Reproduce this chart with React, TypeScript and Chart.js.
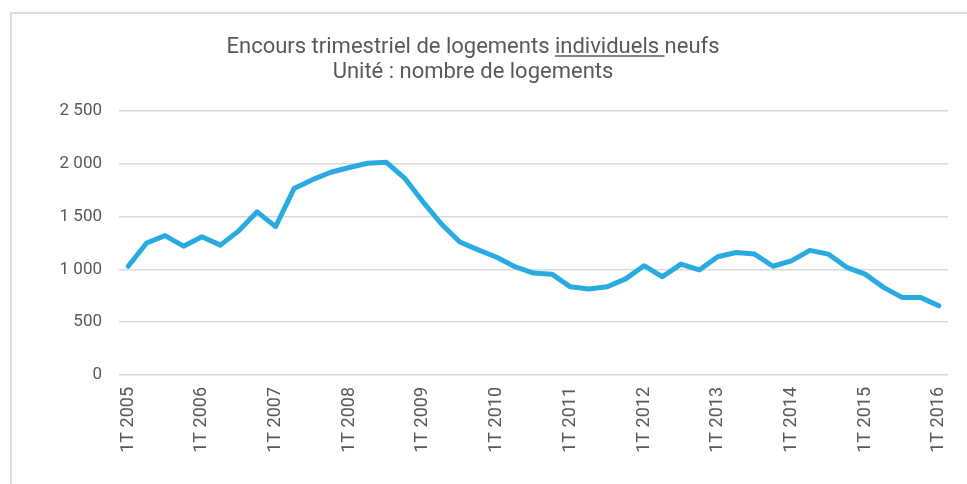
import React, { useEffect, useRef } from "react";
import { Chart, registerables } from "chart.js";

Chart.register(...registerables);

const years = [2005, 2006, 2007, 2008, 2009, 2010, 2011, 2012, 2013, 2014, 2015, 2016];
const quarters = ["1T", "2T", "3T", "4T"];
const categories: string[] = years
  .flatMap((y) => quarters.map((q) => `${q} ${y}`))
  .slice(0, 45);

const encours = [
  1030, 1250, 1320, 1220, 1310, 1230, 1365, 1545, 1405, 1765, 1850, 1920, 1965, 2005, 2015,
  1865, 1640, 1430, 1260, 1185, 1115, 1025, 965, 955, 835, 815, 835, 910, 1035, 930, 1050,
  995, 1120, 1160, 1145, 1030, 1080, 1180, 1145, 1020, 955, 830, 735, 735, 655,
];

const titleBefore = "Encours trimestriel de logements ";
const titleUnderlined = "individuels ";
const titleAfter = "neufs";
const subtitle = "Unité : nombre de logements";

const TEXT = "#595959";
const FONT = "Roboto, 'Noto Sans', sans-serif";

const titlePlugin = {
  id: "customTitle",
  afterDraw(chart: any) {
    const ctx = chart.ctx;
    ctx.save();
    ctx.fillStyle = TEXT;
    ctx.strokeStyle = TEXT;
    ctx.font = `22px ${FONT}`;
    ctx.textBaseline = "alphabetic";
    ctx.textAlign = "left";
    const cx = 473;
    const w1 = ctx.measureText(titleBefore).width;
    const w2 = ctx.measureText(titleUnderlined).width;
    const w3 = ctx.measureText(titleAfter).width;
    const total = w1 + w2 + w3;
    const x = cx - total / 2;
    const y1 = 53;
    ctx.fillText(titleBefore, x, y1);
    ctx.fillText(titleUnderlined, x + w1, y1);
    ctx.fillText(titleAfter, x + w1 + w2, y1);
    ctx.lineWidth = 1.3;
    ctx.beginPath();
    ctx.moveTo(x + w1, y1 + 3);
    ctx.lineTo(x + w1 + w2, y1 + 3);
    ctx.stroke();
    ctx.textAlign = "center";
    ctx.fillText(subtitle, cx, 78);
    ctx.restore();
  },
};

function formatThousands(v: number): string {
  if (v >= 1000) {
    const th = Math.floor(v / 1000);
    const rest = String(v % 1000).padStart(3, "0");
    return `${th} ${rest}`;
  }
  return String(v);
}

export default function App() {
  const ref = useRef<HTMLCanvasElement | null>(null);

  useEffect(() => {
    if (!ref.current) return;
    const chart = new Chart(ref.current, {
      type: "line",
      data: {
        labels: categories,
        datasets: [
          {
            data: encours,
            borderColor: "#29abe2",
            backgroundColor: "#29abe2",
            borderWidth: 5,
            pointRadius: 0,
            tension: 0,
            borderCapStyle: "round",
            borderJoinStyle: "round",
          },
        ],
      },
      options: {
        responsive: false,
        animation: false,
        layout: { padding: { top: 111, right: 19, left: 0, bottom: 0 } },
        plugins: {
          legend: { display: false },
          title: { display: false },
          tooltip: { enabled: false },
        },
        scales: {
          x: {
            offset: true,
            grid: { display: false, drawTicks: false },
            border: { display: false },
            afterFit: (s: any) => {
              s.height = 109;
              s.paddingLeft = 0;
              s.paddingRight = 0;
            },
            ticks: {
              autoSkip: false,
              minRotation: 90,
              maxRotation: 90,
              padding: 12,
              color: TEXT,
              font: { family: FONT, size: 18 },
              callback: (_v: any, i: number) => (i % 4 === 0 ? categories[i] : ""),
            },
          },
          y: {
            min: 0,
            max: 2500,
            grid: { color: "#d9d9d9", lineWidth: 1.5, drawTicks: false },
            border: { display: false },
            afterFit: (s: any) => {
              s.width = 119;
            },
            ticks: {
              stepSize: 500,
              padding: 17,
              color: TEXT,
              font: { family: FONT, size: 17 },
              callback: (v: any) => formatThousands(Number(v)),
            },
          },
        },
      },
      plugins: [titlePlugin],
    });
    return () => chart.destroy();
  }, []);

  return (
    <div style={{ position: "fixed", left: 0, top: 0, width: 967, height: 484, background: "#fff", overflow: "hidden" }}>
      <div
        style={{
          position: "absolute",
          left: 10,
          top: 12,
          width: 1200,
          height: 800,
          border: "2px solid #dcdcdc",
        }}
      />
      <canvas ref={ref} width={967} height={484} style={{ position: "absolute", left: 0, top: 0, display: "block" }} />
    </div>
  );
}
